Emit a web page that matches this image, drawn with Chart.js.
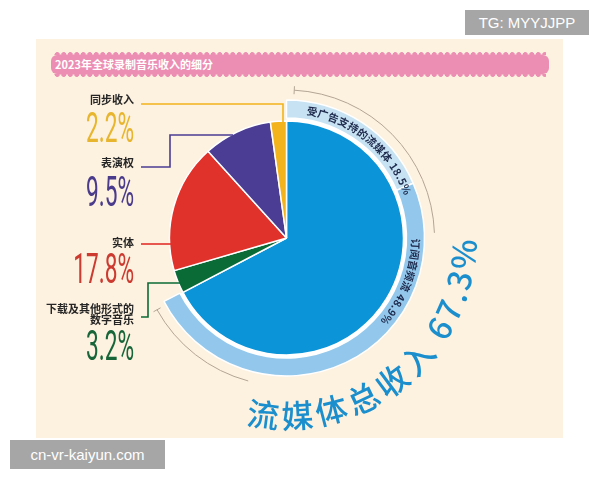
<!DOCTYPE html>
<html lang="zh">
<head>
<meta charset="utf-8">
<title>2023年全球录制音乐收入的细分</title>
<script src="https://cdn.jsdelivr.net/npm/chart.js@4.4.1/dist/chart.umd.min.js"></script>
<style>
    html, body {
        margin: 0;
        padding: 0;
        width: 600px;
        height: 480px;
        overflow: hidden;
        background: #ffffff;
        font-family: "Noto Sans CJK SC", sans-serif;
    }
    .panel {
        position: absolute;
        left: 36px;
        top: 39px;
        width: 527px;
        height: 399px;
        background: #fdf1df;
    }
    .banner {
        position: absolute;
        left: 51px;
        top: 55px;
        width: 498px;
        height: 19px;
        box-sizing: border-box;
        padding-left: 4px;
        background: #ec8eb3;
        border-radius: 6px;
        color: #ffffff;
        font-size: 11px;
        font-weight: bold;
        line-height: 19px;
    }
    .banner::before,
    .banner::after {
        content: '';
        position: absolute;
        left: 3px;
        right: 3px;
        height: 3px;
        background: radial-gradient(circle at 50% 100%, #ec8eb3 2.6px, rgba(236, 142, 179, 0) 3.1px) repeat-x;
        background-size: 6.5px 3px;
    }
    .banner::before { top: -3px; }
    .banner::after { bottom: -3px; transform: scaleY(-1); }
    .chart-box {
        position: absolute;
        left: 0;
        top: 0;
        width: 600px;
        height: 480px;
    }
    .mark {
        position: absolute;
        background: #a6a6a6;
        color: #ffffff;
        font: 15px "Liberation Sans", Arial, sans-serif;
        text-align: center;
    }
</style>
</head>
<body>
<div class="panel"></div>
<div class="banner" id="banner"></div>
<div class="chart-box"><canvas id="pieChart"></canvas></div>
<div class="mark" style="left:465px; top:10px; width:124px; height:25px; line-height:25px;">TG: MYYJJPP</div>
<div class="mark" style="left:10px; top:440px; width:155px; height:29px; line-height:29px;">cn-vr-kaiyun.com</div>

<script>
// ===================================
// DATA
// ===================================

const chartTitle = '2023年全球录制音乐收入的细分';

// slices, clockwise from 12 o'clock
const categories = ['流媒体', '下载及其他形式的数字音乐', '实体', '表演权', '同步收入'];
const shares = [67.3, 3.2, 17.8, 9.5, 2.2];

// split of the streaming slice (outer ring)
const streamingParts = ['受广告支持的流媒体', '订阅音频流'];
const streamingShares = [18.5, 48.9];

// ===================================
// STYLE / LAYOUT
// ===================================

const sliceColors = ['#0b94d7', '#0b6b36', '#e1312b', '#4b3c94', '#f2b31c'];
const numberColors = ['#1b8fcd', '#17663a', '#cc3a30', '#4a3b8c', '#e8b52e'];
const ringColors = ['#c7e2f3', '#93c8ec'];

const CX = 286.5, CY = 238, R_OUT = 138, BW = 1.5;
const W = 600, H = 480;

// label blocks on the left, by slice index
const callouts = {
    4: { textY: [100], numY: 142, path: [[141, 104], [283, 104]], hit: 'down' },
    3: { textY: [163], numY: 206, path: [[141, 167], [170, 167], [170, 135]], hit: 'right' },
    2: { textY: [243], numY: 283, path: [[141, 244]], hit: 'right' },
    1: { textY: [309, 320], numY: 360, path: [[141, 317], [148, 317], [148, 283]], hit: 'right' }
};

document.getElementById('banner').textContent = chartTitle;

// ===================================
// HELPERS
// ===================================

/**
 * Draw a string along a circle. Angles in degrees, clockwise from top.
 * dir 1 = clockwise with letter tops outward, dir -1 = counter-clockwise with tops inward
 */
function drawArcText(ctx, str, cx, cy, r, startDeg, dir, gap) {
    let a = startDeg * Math.PI / 180;
    for (const ch of str) {
        const da = (ctx.measureText(ch).width + gap) / r;
        const mid = a + dir * da / 2;
        ctx.save();
        ctx.translate(cx + r * Math.sin(mid), cy - r * Math.cos(mid));
        ctx.rotate(dir > 0 ? mid : mid + Math.PI);
        ctx.fillText(ch, 0, 0);
        ctx.restore();
        a += dir * da;
    }
}

function bracketArc(ctx, cx, cy, r, fromDeg, toDeg, tickDeg) {
    const toRad = d => d * Math.PI / 180 - Math.PI / 2;
    ctx.beginPath();
    ctx.arc(cx, cy, r, toRad(fromDeg), toRad(toDeg));
    ctx.stroke();
    const t = toRad(tickDeg);
    ctx.beginPath();
    ctx.moveTo(cx + (r - 4) * Math.cos(t), cy + (r - 4) * Math.sin(t));
    ctx.lineTo(cx + (r + 4) * Math.cos(t), cy + (r + 4) * Math.sin(t));
    ctx.stroke();
}

// ===================================
// DECORATION PLUGIN
// ===================================

const decorations = {
    id: 'decorations',
    afterDatasetsDraw(chart) {
        const ctx = chart.ctx;
        const pieMeta = chart.getDatasetMeta(2);
        const ringMeta = chart.getDatasetMeta(0);
        const first = pieMeta.data[0];
        const cx = first.x, cy = first.y, r = first.outerRadius;
        const ringMid = (ringMeta.data[0].innerRadius + ringMeta.data[0].outerRadius) / 2;
        const ringOut = ringMeta.data[0].outerRadius;

        ctx.save();

        // leader lines + labels
        Object.keys(callouts).forEach(key => {
            const i = Number(key);
            const c = callouts[i];
            const pts = c.path.slice();
            const last = pts[pts.length - 1];
            if (c.hit === 'right') {
                const dy = last[1] - cy;
                pts.push([cx - Math.sqrt(r * r - dy * dy) + 2, last[1]]);
            } else {
                const dx = last[0] - cx;
                pts.push([last[0], cy - Math.sqrt(r * r - dx * dx) + 2]);
            }
            ctx.strokeStyle = sliceColors[i];
            ctx.lineWidth = 1.6;
            ctx.beginPath();
            pts.forEach((p, k) => k ? ctx.lineTo(p[0], p[1]) : ctx.moveTo(p[0], p[1]));
            ctx.stroke();

            const name = categories[i];
            const lines = name.length > 8 ? [name.slice(0, 8), name.slice(8)] : [name];
            ctx.fillStyle = '#262626';
            ctx.font = 'bold 11px "Noto Sans CJK SC"';
            ctx.textAlign = 'right';
            ctx.textBaseline = 'middle';
            lines.forEach((ln, k) => ctx.fillText(ln, 134, c.textY[k]));

            ctx.save();
            ctx.translate(134, c.numY);
            ctx.scale(0.54, 1);
            ctx.font = '400 42px Roboto';
            ctx.textBaseline = 'alphabetic';
            ctx.fillStyle = numberColors[i];
            ctx.fillText(shares[i].toFixed(1) + '%', 0, 0);
            ctx.restore();
        });

        // brackets around the streaming share
        ctx.strokeStyle = '#b3a595';
        ctx.lineWidth = 1;
        bracketArc(ctx, cx, cy, ringOut + 10, 3, 88, 3);
        bracketArc(ctx, cx, cy, ringOut + 10, 195, 241, 241);

        // text inside the ring
        ctx.fillStyle = '#1f2b4d';
        ctx.font = 'bold 10.5px "Noto Sans CJK SC"';
        ctx.textAlign = 'center';
        ctx.textBaseline = 'middle';
        drawArcText(ctx, streamingParts[0] + ' ' + streamingShares[0].toFixed(1) + '%', cx, cy, ringMid, 9, 1, 0.6);
        drawArcText(ctx, streamingParts[1] + ' ' + streamingShares[1].toFixed(1) + '%', cx, cy, ringMid, 90, 1, 0.6);

        // total streaming text
        ctx.fillStyle = numberColors[0];
        ctx.font = '500 32px "Noto Sans CJK SC"';
        drawArcText(ctx, categories[0] + '总收入 ' + shares[0].toFixed(1) + '%', cx, cy, 178, 193, -1, 2.2);

        ctx.restore();
    }
};

// ===================================
// CHART
// ===================================

const half = R_OUT + BW / 2;
const ringRest = 100 - streamingShares[0] - streamingShares[1];
const clear = 'rgba(0,0,0,0)';

new Chart(document.getElementById('pieChart').getContext('2d'), {
    type: 'pie',
    data: {
        labels: categories,
        datasets: [
            {
                label: '流媒体构成',
                data: [...streamingShares, ringRest],
                backgroundColor: [...ringColors, clear],
                borderColor: ['#ffffff', '#ffffff', clear],
                borderWidth: BW,
                weight: 18
            },
            {
                label: 'gap',
                data: [shares[0], 100 - shares[0]],
                backgroundColor: ['#ffffff', clear],
                borderWidth: 0,
                weight: 3
            },
            {
                label: '收入',
                data: shares,
                backgroundColor: sliceColors,
                borderColor: '#ffffff',
                borderWidth: BW,
                weight: 117
            }
        ]
    },
    options: {
        responsive: true,
        maintainAspectRatio: false,
        animation: false,
        events: [],
        hoverOffset: 0,
        layout: {
            padding: {
                left: CX - half,
                right: W - CX - half,
                top: CY - half,
                bottom: H - CY - half
            }
        },
        plugins: {
            legend: { display: false },
            tooltip: { enabled: false }
        }
    },
    plugins: [decorations]
});
</script>
</body>
</html>
